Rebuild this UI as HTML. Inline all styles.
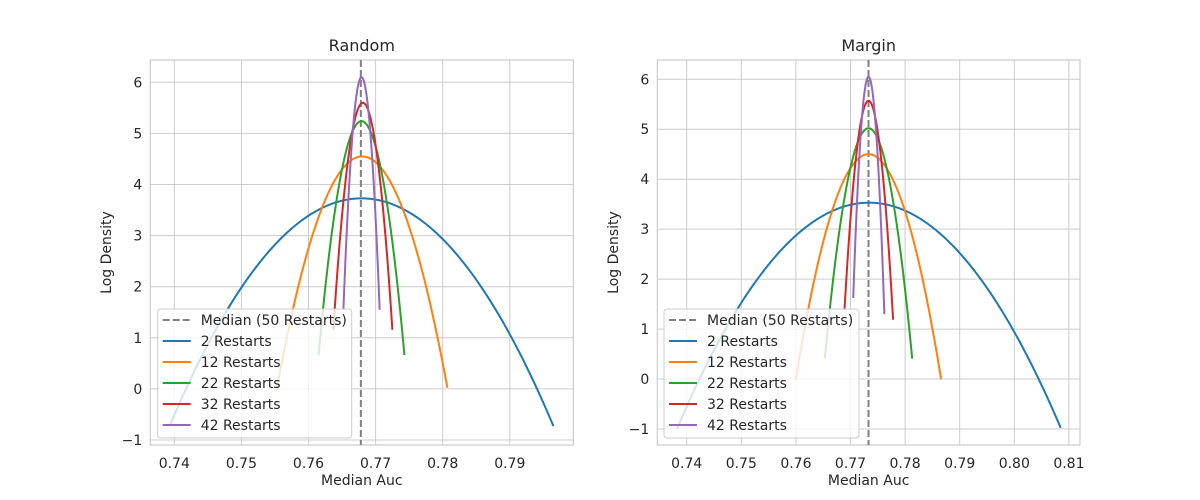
<!DOCTYPE html>
<html><head><meta charset="utf-8"><style>
html,body{margin:0;padding:0;background:#fff;}
svg{display:block;font-family:"DejaVu Sans","Liberation Sans",sans-serif;}
</style></head><body>
<svg id="chart" width="1200" height="500"></svg>
<script>
const seriesLabels = ["2 Restarts","12 Restarts","22 Restarts","32 Restarts","42 Restarts"];
const colors = ["#1f77b4","#ff7f0e","#2ca02c","#d62728","#9467bd"];
// Random panel
const randomMean = [0.7679,0.7680,0.7679,0.7681,0.7679];
const randomSigma = [0.00958,0.00422,0.002115,0.001476,0.000895];
const randomXmin = [0.7393,0.7552,0.7615,0.7637,0.7652];
const randomXmax = [0.7965,0.7807,0.7743,0.7725,0.7706];
const randomMedian = 0.7678;
// Margin panel
const marginMean = [0.7734,0.7733,0.7733,0.7733,0.7733];
const marginSigma = [0.01169,0.00443,0.002634,0.00152,0.000941];
const marginXmin = [0.7382,0.7600,0.7653,0.7689,0.7705];
const marginXmax = [0.8085,0.7866,0.7813,0.7778,0.7762];
const marginMedian = 0.7733;
const randomXTicks = [0.74,0.75,0.76,0.77,0.78,0.79];
const marginXTicks = [0.74,0.75,0.76,0.77,0.78,0.79,0.80,0.81];
const yTicks = [-1,0,1,2,3,4,5,6];

const NS="http://www.w3.org/2000/svg";
const svg=document.getElementById('chart');
function mk(tag,attrs,parent){const e=document.createElementNS(NS,tag);for(const k in attrs)e.setAttribute(k,attrs[k]);(parent||svg).appendChild(e);return e;}

function panel(cfg){
  const g=mk('g',{});
  
  
  const X=v=>cfg.x0px+(v-cfg.x0v)*cfg.xs;
  const Y=v=>cfg.y0px-(v-cfg.y0v)*cfg.ys;
  cfg.xticks.forEach(t=>{
    const l=mk('line',{x1:X(t),x2:X(t),y1:cfg.top,y2:cfg.bottom,stroke:'#cccccc','stroke-width':1},g);
    
    
    const tx=mk('text',{x:X(t),y:cfg.bottom+23,'text-anchor':'middle','font-size':14,fill:'#262626'},g);
    tx.textContent=t.toFixed(2);
    
    
  });
  yTicks.forEach(t=>{
    const l=mk('line',{x1:cfg.left,x2:cfg.right,y1:Y(t),y2:Y(t),stroke:'#cccccc','stroke-width':1},g);
    
    
    const tx=mk('text',{x:cfg.left-8,y:Y(t)+5,'text-anchor':'end','font-size':14,fill:'#262626'},g);
    tx.textContent=t<0?'\u2212'+Math.abs(t):String(t);
    
    
  });
  const fr=mk('rect',{x:cfg.left,y:cfg.top,width:cfg.right-cfg.left,height:cfg.bottom-cfg.top,fill:'none',stroke:'#cccccc','stroke-width':1.2},g);
  
  
  const md=mk('line',{x1:X(cfg.median),x2:X(cfg.median),y1:cfg.top,y2:cfg.bottom,stroke:'#808080','stroke-width':2,'stroke-dasharray':'7,3'},g);
  
  
  for(let i=0;i<seriesLabels.length;i++){
    const mu=cfg.mean[i],s=cfg.sigma[i];
    let d='';const N=120;
    for(let k=0;k<=N;k++){
      const x=cfg.xmin[i]+(cfg.xmax[i]-cfg.xmin[i])*k/N;
      const y=-0.5*Math.log(2*Math.PI*s*s)-(x-mu)*(x-mu)/(2*s*s);
      d+=(k?'L':'M')+X(x).toFixed(2)+','+Y(y).toFixed(2);
    }
    const p=mk('path',{d:d,fill:'none',stroke:colors[i],'stroke-width':2},g);
    
    
  }
  const lg=mk('g',{},g);
  
  
  mk('rect',{x:cfg.legX,y:309,width:cfg.legW,height:129,rx:3,fill:'rgba(255,255,255,0.8)',stroke:'#cccccc','stroke-width':1},lg);
  const entries=[{label:'Median (50 Restarts)',color:'#808080',dash:'7,3'}].concat(seriesLabels.map((l,i)=>({label:l,color:colors[i]})));
  entries.forEach((e,j)=>{
    const yy=320+j*21;
    const en=mk('g',{},lg);
    
    
    const a={x1:cfg.legX+5,x2:cfg.legX+33,y1:yy,y2:yy,stroke:e.color,'stroke-width':2};
    if(e.dash)a['stroke-dasharray']=e.dash;
    mk('line',a,en);
    const t=mk('text',{x:cfg.legX+43,y:yy+5,'font-size':14,fill:'#262626'},en);
    t.textContent=e.label;
  });
  const ti=mk('text',{x:(cfg.left+cfg.right)/2,y:51,'text-anchor':'middle','font-size':16,fill:'#262626'},g);
  ti.textContent=cfg.title;
  
  
  const xl=mk('text',{x:(cfg.left+cfg.right)/2,y:485,'text-anchor':'middle','font-size':14,fill:'#262626'},g);
  xl.textContent='Median Auc';
  
  
  const yl=mk('text',{x:0,y:0,'text-anchor':'middle','font-size':14,fill:'#262626',transform:'translate('+cfg.ylabX+','+((cfg.top+cfg.bottom)/2)+') rotate(-90)'},g);
  yl.textContent='Log Density';
  
  
}
panel({name:'random',title:'Random',left:150.3,right:573.3,top:60,bottom:445,x0px:174.3,x0v:0.74,xs:6710,y0px:440,y0v:-1,ys:51.1,
  xticks:randomXTicks,mean:randomMean,sigma:randomSigma,xmin:randomXmin,xmax:randomXmax,median:randomMedian,legX:157.7,legW:194,ylabX:111});
panel({name:'margin',title:'Margin',left:657.3,right:1080,top:60,bottom:445,x0px:686.7,x0v:0.74,xs:5460,y0px:429,y0v:-1,ys:49.96,
  xticks:marginXTicks,mean:marginMean,sigma:marginSigma,xmin:marginXmin,xmax:marginXmax,median:marginMedian,legX:664,legW:195,ylabX:618});
</script>
</body></html>
